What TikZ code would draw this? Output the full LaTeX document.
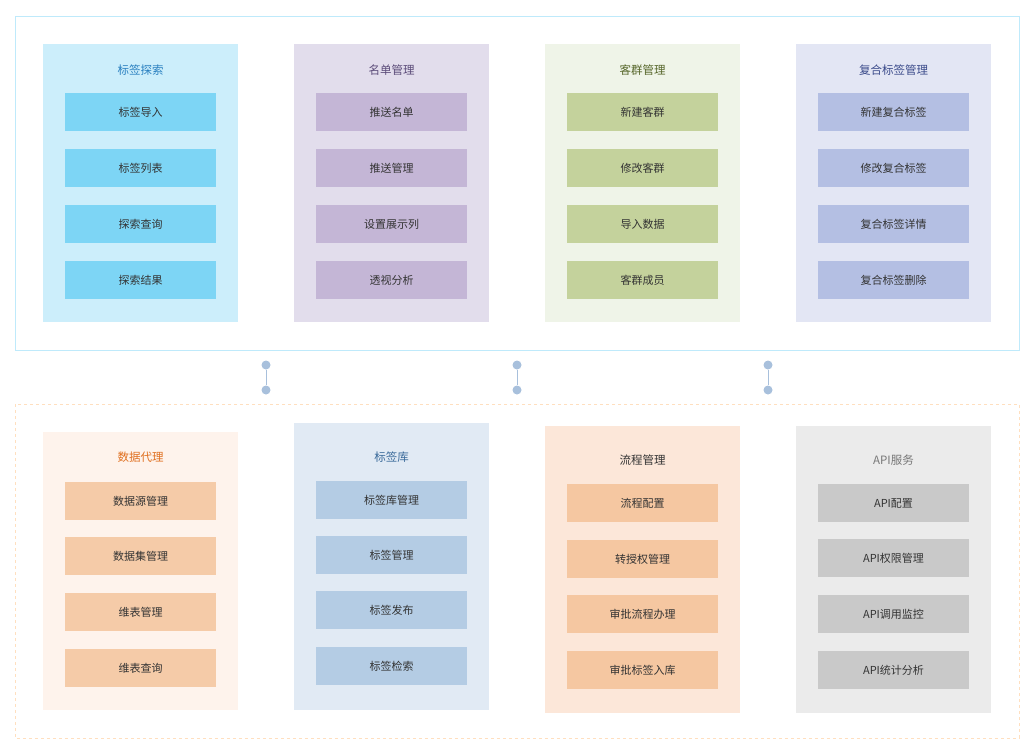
\documentclass[tikz,border=0pt]{standalone}
\usepackage{fontspec}
\setmainfont{Noto Sans CJK SC}
\usetikzlibrary{positioning}
\definecolor{tbg1}{HTML}{CCEEFB}\definecolor{tit1}{HTML}{7DD5F5}\definecolor{ttx1}{HTML}{2A80C0}
\definecolor{tbg2}{HTML}{E2DDEC}\definecolor{tit2}{HTML}{C4B6D6}\definecolor{ttx2}{HTML}{5A4A78}
\definecolor{tbg3}{HTML}{EFF4E8}\definecolor{tit3}{HTML}{C4D29C}\definecolor{ttx3}{HTML}{56662A}
\definecolor{tbg4}{HTML}{E3E6F4}\definecolor{tit4}{HTML}{B4BFE3}\definecolor{ttx4}{HTML}{3A4A8A}
\definecolor{bbg1}{HTML}{FEF3EC}\definecolor{bit1}{HTML}{F5CBA8}\definecolor{btx1}{HTML}{E07020}
\definecolor{bbg2}{HTML}{E1EAF4}\definecolor{bit2}{HTML}{B4CCE4}\definecolor{btx2}{HTML}{3A6A9A}
\definecolor{bbg3}{HTML}{FCE7D9}\definecolor{bit3}{HTML}{F5C7A1}\definecolor{btx3}{HTML}{333333}
\definecolor{bbg4}{HTML}{EBEBEB}\definecolor{bit4}{HTML}{C9C9C9}\definecolor{btx4}{HTML}{777777}
\definecolor{linkc}{HTML}{A8C0DC}
\begin{document}
\begin{tikzpicture}[x=1pt,y=-1pt,
    itembox/.style={minimum width=151pt, minimum height=38pt, inner sep=0pt, font=\fontsize{11}{13}\selectfont, text=black!80},
    coltitle/.style={font=\fontsize{11.5}{13}\selectfont},
    dot/.style={circle, fill=linkc, inner sep=0pt, minimum size=9pt}]
  \useasboundingbox (0,0) rectangle (1031,753);
  %Frames
  \draw[draw=cyan!25, line width=0.8pt] (15,16) rectangle (1019,350);
  \draw[draw=orange!25, dashed, line width=0.8pt] (15,404) rectangle (1019,738);
  %Top columns
  \foreach \i/\x/\tt/\la/\lb/\lc/\ld in {
      1/43/标签探索/标签导入/标签列表/探索查询/探索结果,
      2/294/名单管理/推送名单/推送管理/设置展示列/透视分析,
      3/545/客群管理/新建客群/修改客群/导入数据/客群成员,
      4/796/复合标签管理/新建复合标签/修改复合标签/复合标签详情/复合标签删除}{
    \fill[tbg\i] (\x,44) rectangle ++(195,278);
    \node[coltitle, text=ttx\i] (ttitle\i) at (\x+97.5,70) {\tt};
    \node[itembox, fill=tit\i] (titem\i a) at (\x+97.5,112) {\la};
    \node[itembox, fill=tit\i] (titem\i b) at (\x+97.5,168) {\lb};
    \node[itembox, fill=tit\i] (titem\i c) at (\x+97.5,224) {\lc};
    \node[itembox, fill=tit\i] (titem\i d) at (\x+97.5,280) {\ld};
  }
  %Bottom columns
  \foreach \i/\x/\ytop/\ybot/\ty/\ya/\yb/\yc/\yd/\tt/\la/\lb/\lc/\ld in {
      1/43/432/710/457/501/556/612/668/数据代理/数据源管理/数据集管理/维表管理/维表查询,
      2/294/423/710/457/500/555/610/666/标签库/标签库管理/标签管理/标签发布/标签检索,
      3/545/426/713/460/503/559/614/670/流程管理/流程配置/转授权管理/审批流程办理/审批标签入库,
      4/796/426/713/460/503/558/614/670/API服务/API配置/API权限管理/API调用监控/API统计分析}{
    \fill[bbg\i] (\x,\ytop) rectangle (\x+195,\ybot);
    \node[coltitle, text=btx\i] (btitle\i) at (\x+97.5,\ty) {\tt};
    \node[itembox, fill=bit\i] (bitem\i a) at (\x+97.5,\ya) {\la};
    \node[itembox, fill=bit\i] (bitem\i b) at (\x+97.5,\yb) {\lb};
    \node[itembox, fill=bit\i] (bitem\i c) at (\x+97.5,\yc) {\lc};
    \node[itembox, fill=bit\i] (bitem\i d) at (\x+97.5,\yd) {\ld};
  }
  %Links
  \foreach \k/\x in {1/266,2/517,3/768}{
    \node[dot] (upper\k) at (\x,365) {};
    \node[dot] (lower\k) at (\x,390) {};
    \draw[linkc, line width=1pt] (upper\k) -- (lower\k);
  }
\end{tikzpicture}
\end{document}
